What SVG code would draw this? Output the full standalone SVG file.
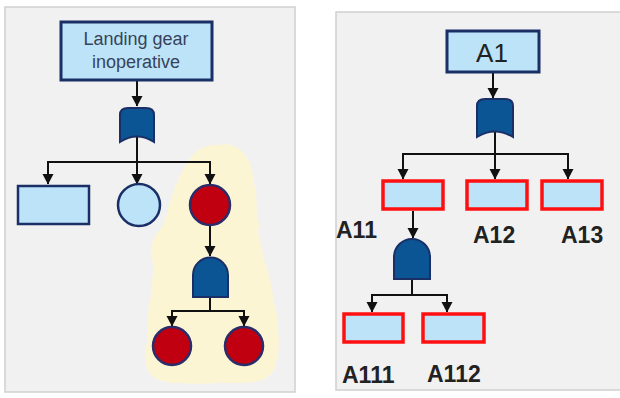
<svg xmlns="http://www.w3.org/2000/svg" width="620" height="398" viewBox="0 0 620 398">
  <defs>
    <marker id="arrowDown" markerUnits="userSpaceOnUse" markerWidth="12" markerHeight="11" viewBox="0 0 12 11" refX="6" refY="10">
      <path d="M0.5,0 L11.5,0 L6,10.5 Z" fill="#111"/>
    </marker>
  </defs>
  <style>
    .panel { fill: #f1f1f1; stroke: #cfcfcf; stroke-width: 1.5; }
    .event { fill: #bde3f8; stroke: #1a2f66; stroke-width: 3; }
    .basic { fill: #bde3f8; stroke: #1a2f66; stroke-width: 2.5; }
    .fail { fill: #c00010; stroke: #2b2c6a; stroke-width: 2.5; }
    .gate { fill: #0b5594; stroke: #1a2f66; stroke-width: 2; }
    .sub { fill: #bde3f8; stroke: #ff1010; stroke-width: 3.5; }
    .wire { fill: none; stroke: #111; stroke-width: 2; }
    .drop { fill: none; stroke: #111; stroke-width: 2; marker-end: url(#arrowDown); }
    .title { font-family: "Liberation Sans", Arial, sans-serif; font-size: 18px; fill: #37435a; text-anchor: middle; }
    .top { font-family: "Liberation Sans", Arial, sans-serif; font-size: 26px; fill: #222; text-anchor: middle; }
    .label { font-family: "Liberation Sans", Arial, sans-serif; font-size: 23px; font-weight: bold; fill: #222; }
  </style>

  <!-- panels -->
  <rect class="panel" x="5" y="7" width="290" height="385"/>
  <rect class="panel" x="336" y="12" width="290" height="378"/>

  <!-- highlighted branch -->
  <path id="highlight" d="M193,155 C199,147 212,144 222,145 L227,144 C235,146 241,149 245,155 C251,163 253,172 254,184 L256,190 C257,203 256,213 259,225 L258,232 C261,243 262,252 265,262 L267,268 C270,279 273,292 275,308 L277,315 C279,331 279,345 278,357 L276,362 C275,371 271,376 262,380 C248,384 233,383 214,383 L205,384 C188,383 171,385 157,379 C147,374 144,363 145,351 L147,343 C147,331 148,319 149,304 L151,296 C151,284 154,273 153,262 L151,255 C151,245 153,238 158,232 C165,224 167,213 170,203 L172,196 C175,186 180,176 184,168 C187,162 190,158 193,155 Z" fill="#fcf5d4"/>

  <!-- connectors -->
  <g id="connectors">
    <!-- left tree -->
    <line class="drop" x1="137" y1="80" x2="137" y2="106"/>
    <line class="wire" x1="137" y1="136" x2="137" y2="162"/>
    <polyline class="wire" points="48,172 48,162 210,162 210,172"/>
    <line class="drop" x1="48" y1="171" x2="48" y2="184"/>
    <line class="drop" x1="137" y1="162" x2="137" y2="184"/>
    <line class="drop" x1="210" y1="171" x2="210" y2="184"/>
    <line class="drop" x1="210" y1="226" x2="210" y2="256"/>
    <line class="wire" x1="210" y1="297" x2="210" y2="311"/>
    <polyline class="wire" points="172,318 172,311 244,311 244,318"/>
    <line class="drop" x1="172" y1="316" x2="172" y2="326"/>
    <line class="drop" x1="244" y1="316" x2="244" y2="326"/>

    <!-- right tree -->
    <line class="drop" x1="493" y1="72" x2="493" y2="98"/>
    <line class="wire" x1="495" y1="132" x2="495" y2="154"/>
    <polyline class="wire" points="403,165 403,154 568,154 568,165"/>
    <line class="drop" x1="403" y1="164" x2="403" y2="179"/>
    <line class="drop" x1="495" y1="154" x2="495" y2="179"/>
    <line class="drop" x1="568" y1="164" x2="568" y2="179"/>
    <line class="drop" x1="413" y1="211" x2="413" y2="238"/>
    <line class="wire" x1="412" y1="279" x2="412" y2="295"/>
    <polyline class="wire" points="372,302 372,295 447,295 447,302"/>
    <line class="drop" x1="372" y1="300" x2="372" y2="312"/>
    <line class="drop" x1="447" y1="300" x2="447" y2="312"/>
  </g>

  <!-- left tree nodes -->
  <g id="landing-gear">
    <rect class="event" x="61" y="22" width="151" height="58"/>
    <text class="title" x="136" y="45">Landing gear</text>
    <text class="title" x="136" y="68">inoperative</text>
  </g>
  <g id="or-gate-left">
    <path class="gate" d="M120,142 V115 Q120,108 128,108 H146 Q154,108 154,115 V142 Q137,131 120,142 Z"/>
  </g>
  <g id="basic-rect">
    <rect class="basic" x="18" y="186" width="71" height="38"/>
  </g>
  <g id="basic-circle">
    <circle class="basic" cx="139" cy="205" r="21"/>
  </g>
  <g id="fail-top">
    <circle class="fail" cx="210" cy="205" r="20"/>
  </g>
  <g id="and-gate-left">
    <path class="gate" d="M193,297 V275 A17.5,17.5 0 0 1 228,275 V297 Z"/>
  </g>
  <g id="fail-left">
    <circle class="fail" cx="172" cy="346" r="19"/>
  </g>
  <g id="fail-right">
    <circle class="fail" cx="244" cy="346" r="19"/>
  </g>

  <!-- right tree nodes -->
  <g id="A1">
    <rect class="event" x="447" y="31" width="92" height="41"/>
    <text class="top" x="492" y="62">A1</text>
  </g>
  <g id="or-gate-right">
    <path class="gate" d="M477,137 V106 Q477,99 485,99 H505 Q513,99 513,106 V137 Q495,126 477,137 Z"/>
  </g>
  <g id="A11">
    <rect class="sub" x="383" y="181" width="60" height="28"/>
    <text class="label" x="336" y="238">A11</text>
  </g>
  <g id="A12">
    <rect class="sub" x="467" y="181" width="60" height="28"/>
    <text class="label" x="473" y="243">A12</text>
  </g>
  <g id="A13">
    <rect class="sub" x="542" y="181" width="60" height="28"/>
    <text class="label" x="561" y="243">A13</text>
  </g>
  <g id="and-gate-right">
    <path class="gate" d="M394,279 V257 A18,18 0 0 1 430,257 V279 Z"/>
  </g>
  <g id="A111">
    <rect class="sub" x="344" y="314" width="59" height="28"/>
    <text class="label" x="342" y="383">A111</text>
  </g>
  <g id="A112">
    <rect class="sub" x="423" y="314" width="61" height="28"/>
    <text class="label" x="427" y="382">A112</text>
  </g>
</svg>
